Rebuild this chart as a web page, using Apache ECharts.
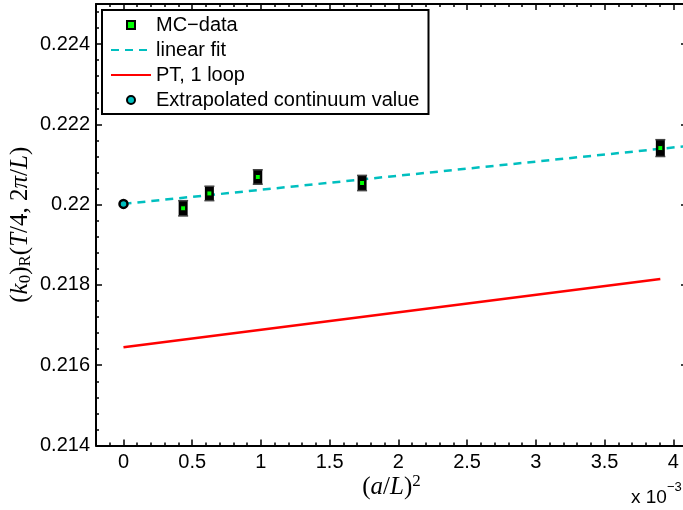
<!DOCTYPE html>
<html lang="en">
<head>
    <meta charset="UTF-8">
    <title>k0 continuum extrapolation</title>
    <script src="https://cdn.jsdelivr.net/npm/echarts@6/dist/echarts.min.js"></script>
    <style>
        html, body { margin: 0; padding: 0; background: #fff; }
    </style>
</head>
<body>
<div id="box" style="width:683px;height:510px;"></div>
<script>
    // x values in units of 10^-3, i.e. (a/L)^2 for L/a = 48, 40, 32, 24, 16
    var mcX = [0.434, 0.625, 0.977, 1.736, 3.906];
    var mcY = [0.21991, 0.22028, 0.22069, 0.22054, 0.22141];
    var mcErr = [0.00019, 0.00018, 0.00018, 0.00019, 0.00021];

    var fitX = [0, 4.1];
    var fitY = [0.22002, 0.22146];

    var ptX = [0, 3.906];
    var ptY = [0.21645, 0.21815];

    var contX = [0];
    var contY = [0.22002];

    var xMajor = [0, 0.5, 1, 1.5, 2, 2.5, 3, 3.5, 4];
    var yMajor = [0.214, 0.216, 0.218, 0.220, 0.222, 0.224];

    // minor tick positions
    var xMinor = [];
    for (var i = -1; i <= 41; i++) {
        if (i % 5 !== 0) xMinor.push(i / 10);
    }
    var yMinor = [];
    for (var j = 1; j <= 27; j++) {
        if (j % 5 !== 0) yMinor.push(0.214 + j * 0.0004);
    }

    function pairs(xs, ys) {
        return xs.map(function (x, k) { return [x, ys[k]]; });
    }

    var myChart = echarts.init(document.getElementById('box'));

    var sans = 'Liberation Sans, Arial, sans-serif';
    var serif = 'Liberation Serif, Times New Roman, serif';

    // math-style rich text pieces (italic letters, upright digits/brackets)
    var mathRich = {
        i: { fontFamily: serif, fontStyle: 'italic', fontSize: 25, lineHeight: 27, color: '#000' },
        n: { fontFamily: serif, fontSize: 25, lineHeight: 27, color: '#000' },
        s: { fontFamily: serif, fontSize: 17, lineHeight: 17, verticalAlign: 'bottom', color: '#000' },
        p: { fontFamily: serif, fontSize: 17, lineHeight: 17, verticalAlign: 'top', color: '#000' }
    };

    function xAxisOf(pos, ticks, len, main) {
        return {
            type: 'value',
            position: pos,
            min: -0.2,
            max: 4.1,
            axisLine: { show: main, onZero: false, lineStyle: { color: '#000', width: 2 } },
            axisTick: { inside: true, length: len, customValues: ticks, lineStyle: { color: '#000', width: 1.5 } },
            axisLabel: {
                show: main && pos === 'bottom',
                customValues: xMajor,
                margin: 7,
                color: '#000',
                fontFamily: sans,
                fontSize: 20,
                formatter: function (v) { return String(+v.toFixed(1)); }
            },
            splitLine: { show: false }
        };
    }

    function yAxisOf(pos, ticks, len, main) {
        return {
            type: 'value',
            position: pos,
            min: 0.214,
            max: 0.225,
            axisLine: { show: main, onZero: false, lineStyle: { color: '#000', width: 2 } },
            axisTick: { inside: true, length: len, customValues: ticks, lineStyle: { color: '#000', width: 1.5 } },
            axisLabel: {
                show: main && pos === 'left',
                customValues: yMajor,
                margin: 6,
                color: '#000',
                fontFamily: sans,
                fontSize: 20,
                formatter: function (v) { return String(+v.toFixed(3)); }
            },
            splitLine: { show: false }
        };
    }

    var xAxes = [
        xAxisOf('bottom', xMajor, 6, true),
        xAxisOf('bottom', xMinor, 3, false),
        xAxisOf('top', xMajor, 6, true),
        xAxisOf('top', xMinor, 3, false)
    ];
    xAxes[0].name = '{n|(}{i|a}{n|/}{i|L}{n|)}{p|2}';
    xAxes[0].nameLocation = 'middle';
    xAxes[0].nameGap = 28;
    xAxes[0].nameMoveOverlap = false;
    xAxes[0].nameTextStyle = { rich: mathRich };

    var yAxes = [
        yAxisOf('left', yMajor, 6, true),
        yAxisOf('left', yMinor, 3, false),
        yAxisOf('right', yMajor, 6, true),
        yAxisOf('right', yMinor, 3, false)
    ];
    yAxes[0].name = '{n|(}{i|k}{s|0}{n|)}{s|R}{n|(}{i|T}{n|/4, 2}{i|π}{n|/}{i|L}{n|)}';
    yAxes[0].nameLocation = 'middle';
    yAxes[0].nameRotate = 90;
    yAxes[0].nameGap = 62;
    yAxes[0].nameMoveOverlap = false;
    yAxes[0].nameTextStyle = { rich: mathRich };

    var noDot = { color: 'rgba(0,0,0,0)', borderWidth: 0 };

    var option = {
        animation: false,
        backgroundColor: '#fff',
        grid: { left: 96, top: 4, width: 591, height: 441.5, containLabel: false, outerBoundsMode: 'none' },
        xAxis: xAxes,
        yAxis: yAxes,
        legend: {
            orient: 'vertical',
            left: 102,
            top: 10,
            padding: [5, 9, 4, 8],
            itemGap: 5,
            itemWidth: 40,
            itemHeight: 8,
            backgroundColor: '#fff',
            borderColor: '#000',
            borderWidth: 2,
            borderRadius: 0,
            textStyle: { color: '#000', fontFamily: sans, fontSize: 20, lineHeight: 20 },
            data: [
                { name: 'MC−data', icon: 'path://M0,0L10,0L10,10L0,10Z' },
                { name: 'linear fit', itemStyle: noDot },
                { name: 'PT, 1 loop', itemStyle: noDot },
                'Extrapolated continuum value'
            ]
        },
        graphic: [{
            type: 'text',
            left: 631,
            top: 481,
            style: {
                text: '{a|x 10}{b|−3}',
                rich: {
                    a: { fontFamily: sans, fontSize: 19, lineHeight: 26, verticalAlign: 'bottom', fill: '#000' },
                    b: { fontFamily: sans, fontSize: 13, lineHeight: 26, verticalAlign: 'top', fill: '#000' }
                }
            }
        }],
        series: [
            {
                name: 'linear fit',
                type: 'line',
                symbol: 'none',
                z: 2,
                lineStyle: { color: '#00bfbf', width: 2.5, type: [8, 6] },
                itemStyle: { color: '#00bfbf' },
                data: pairs(fitX, fitY)
            },
            {
                name: 'PT, 1 loop',
                type: 'line',
                symbol: 'none',
                z: 2,
                lineStyle: { color: '#ff0000', width: 2.5 },
                itemStyle: { color: '#ff0000' },
                data: pairs(ptX, ptY)
            },
            {
                name: 'errors',
                type: 'custom',
                z: 3,
                renderItem: function (params, api) {
                    var x = api.value(0), y = api.value(1), e = api.value(2);
                    var top = api.coord([x, y + e]);
                    var bot = api.coord([x, y - e]);
                    return {
                        type: 'group',
                        children: [
                            { type: 'rect', shape: { x: top[0] - 4.5, y: top[1], width: 9, height: bot[1] - top[1] }, style: { fill: '#000' } },
                            { type: 'line', shape: { x1: top[0] - 5, y1: top[1], x2: top[0] + 5, y2: top[1] }, style: { stroke: '#444', lineWidth: 1.5 } },
                            { type: 'line', shape: { x1: bot[0] - 5, y1: bot[1], x2: bot[0] + 5, y2: bot[1] }, style: { stroke: '#444', lineWidth: 1.5 } }
                        ]
                    };
                },
                data: mcX.map(function (x, k) { return [x, mcY[k], mcErr[k]]; })
            },
            {
                name: 'MC−data',
                type: 'scatter',
                z: 4,
                symbol: 'rect',
                symbolSize: 5,
                itemStyle: { color: '#00ff00', borderColor: '#000', borderWidth: 1, opacity: 1 },
                data: pairs(mcX, mcY)
            },
            {
                name: 'Extrapolated continuum value',
                type: 'scatter',
                z: 4,
                symbol: 'circle',
                symbolSize: 8,
                itemStyle: { color: '#00bfbf', borderColor: '#000', borderWidth: 2.5, opacity: 1 },
                data: pairs(contX, contY)
            }
        ]
    };

    myChart.setOption(option);
</script>
</body>
</html>
